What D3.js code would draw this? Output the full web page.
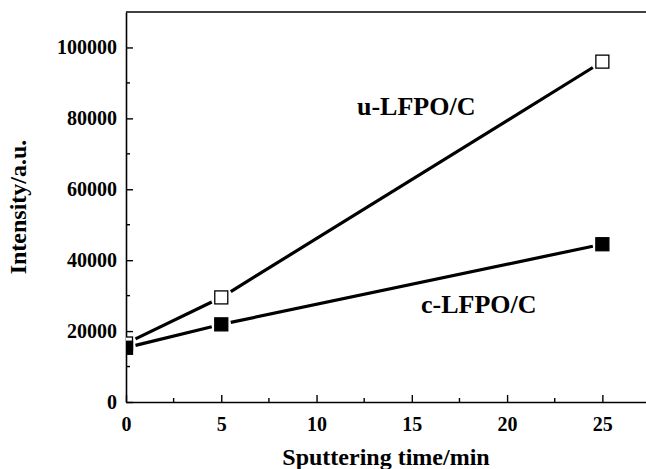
<!DOCTYPE html>
<html>
<head>
<meta charset="utf-8">
<script src="https://cdn.jsdelivr.net/npm/d3@7"></script>
<style>
  body { margin: 0; background: #fff; }
  svg text { font-family: "Liberation Serif", "Times New Roman", serif; font-weight: bold; fill: #000; }
</style>
</head>
<body>
<svg width="646" height="469"></svg>
<script>
// données
const times = [0, 5, 25];
const uValues = [16500, 29500, 96000];
const cValues = [15300, 21900, 44500];
const xTicks = [0, 5, 10, 15, 20, 25];
const yTicks = [0, 20000, 40000, 60000, 80000, 100000];

const svg = d3.select("svg");
const mLeft = 126, mRight = 650, mTop = 12, mBottom = 402;

// échelles
const x = d3.scaleLinear().domain([0, 27.5]).range([mLeft, mRight]);
const y = d3.scaleLinear().domain([0, 110000]).range([mBottom, mTop]);

svg.append("clipPath").attr("id", "plot")
  .append("rect")
  .attr("x", mLeft).attr("y", mTop)
  .attr("width", mRight - mLeft).attr("height", mBottom - mTop);

// axes (graduations vers l'intérieur)
const yAxis = d3.axisLeft(y).tickValues(yTicks).tickSizeInner(-7).tickSizeOuter(0).tickPadding(16).tickFormat(d3.format("d"));
const xAxis = d3.axisBottom(x).tickValues(xTicks).tickSizeInner(-7).tickSizeOuter(0).tickPadding(15);

const gy = svg.append("g").attr("transform", `translate(${mLeft},0)`).call(yAxis);
const gx = svg.append("g").attr("transform", `translate(0,${mBottom})`).call(xAxis);

[gx, gy].forEach(g => {
  g.select(".domain").attr("stroke", "#000").attr("stroke-width", 1.6);
  g.selectAll(".tick line").attr("stroke", "#000").attr("stroke-width", 1.4);
  g.selectAll(".tick text").attr("font-size", 20).attr("font-family", "Liberation Serif").attr("font-weight", "bold");
});
// étiquettes y plus proches de l'axe
gy.selectAll(".tick text").attr("x", -9);

// graduations mineures
const yMinor = d3.range(10000, 110000, 20000);
const xMinor = d3.range(2.5, 27.5, 5);
svg.append("g").selectAll("line")
  .data(yMinor).join("line")
  .attr("x1", mLeft).attr("x2", mLeft + 4)
  .attr("y1", d => y(d)).attr("y2", d => y(d))
  .attr("stroke", "#000").attr("stroke-width", 1.4);
svg.append("g").selectAll("line")
  .data(xMinor).join("line")
  .attr("x1", d => x(d)).attr("x2", d => x(d))
  .attr("y1", mBottom).attr("y2", mBottom - 4)
  .attr("stroke", "#000").attr("stroke-width", 1.4);

// cadre haut
svg.append("line")
  .attr("x1", mLeft).attr("x2", mRight)
  .attr("y1", mTop).attr("y2", mTop)
  .attr("stroke", "#000").attr("stroke-width", 1.6);

const plot = svg.append("g").attr("clip-path", "url(#plot)");
const size = 13, gap = 3;

function drawSeries(values, filled) {
  const pts = times.map((t, i) => [x(t), y(values[i])]);
  // segments avec un petit espace autour des symboles
  for (let i = 0; i < pts.length - 1; i++) {
    const [x1, y1] = pts[i], [x2, y2] = pts[i + 1];
    const dx = x2 - x1, dy = y2 - y1, len = Math.hypot(dx, dy);
    const ux = dx / len, uy = dy / len;
    const r = size / 2 + gap;
    const off = Math.min(r / Math.abs(ux || 1e-9), r / Math.abs(uy || 1e-9));
    plot.append("line")
      .attr("x1", x1 + ux * off).attr("y1", y1 + uy * off)
      .attr("x2", x2 - ux * off).attr("y2", y2 - uy * off)
      .attr("stroke", "#000").attr("stroke-width", 3.2);
  }
  plot.append("g").selectAll("rect")
    .data(pts).join("rect")
    .attr("x", d => d[0] - size / 2)
    .attr("y", d => d[1] - size / 2)
    .attr("width", size).attr("height", size)
    .attr("fill", filled ? "#000" : "#fff")
    .attr("stroke", "#000").attr("stroke-width", 1.3);
}

drawSeries(uValues, false);
drawSeries(cValues, true);

// étiquettes des séries
svg.append("text").attr("x", 357).attr("y", 115).attr("font-size", 26).text("u-LFPO/C");
svg.append("text").attr("x", 421).attr("y", 313).attr("font-size", 26).text("c-LFPO/C");

// titres des axes
svg.append("text")
  .attr("x", (mLeft + 646) / 2).attr("y", 465)
  .attr("text-anchor", "middle").attr("font-size", 24)
  .text("Sputtering time/min");
svg.append("text")
  .attr("transform", `translate(26,${(mTop + mBottom) / 2}) rotate(-90)`)
  .attr("text-anchor", "middle").attr("font-size", 24)
  .text("Intensity/a.u.");
</script>
</body>
</html>
